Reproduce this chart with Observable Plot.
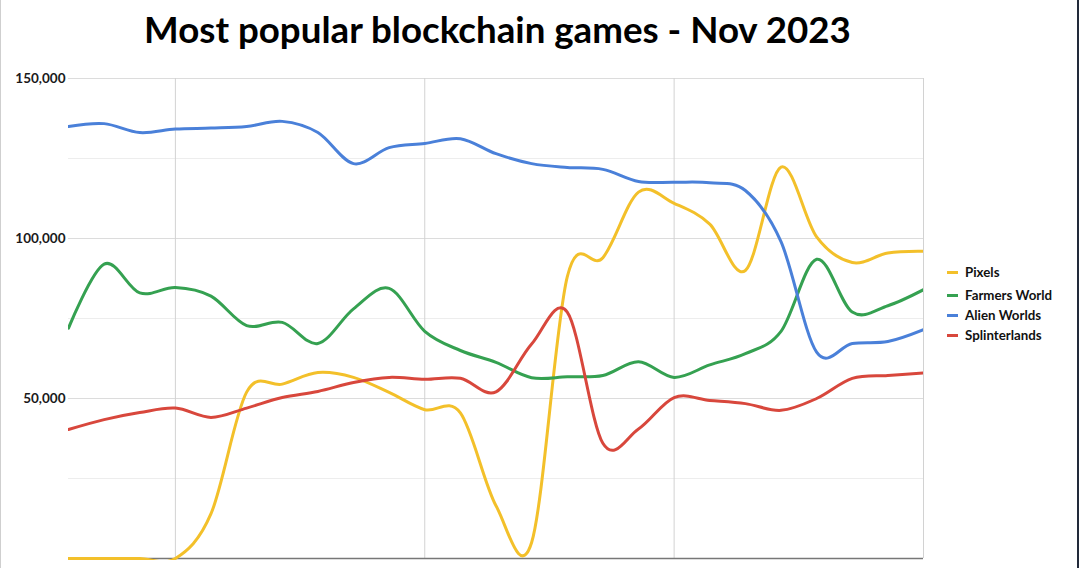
<!DOCTYPE html>
<html>
<head>
<meta charset="utf-8">
<script src="https://cdn.jsdelivr.net/npm/d3@7"></script>
<script src="https://cdn.jsdelivr.net/npm/@observablehq/plot@0.6"></script>
<style>
  html, body { margin: 0; padding: 0; background: #fff; }
  #wrap { position: relative; width: 1080px; height: 568px; overflow: hidden; background: #fff; font-family: Lato, "Open Sans", sans-serif; }
  #title { position: absolute; left: 0; top: 11px; width: 995px; text-align: center; font-weight: 700; font-size: 36.7px; line-height: 1; color: #000; }
  #chart { position: absolute; left: 0; top: 0; }
  #legend { position: absolute; left: 947px; top: 0; }
  .item { position: absolute; left: 0; white-space: nowrap; font-weight: 700; font-size: 13.3px; line-height: 1; color: #111; }
  .sw { display: inline-block; width: 11px; height: 3px; vertical-align: middle; margin-right: 7px; position: relative; top: -1px; }
  #edgeL { position: absolute; left: 0; top: 0; width: 1px; height: 568px; background: #cfcfcf; }
  #edgeR { position: absolute; left: 1077px; top: 0; width: 2px; height: 568px; background: #222a3a; }
</style>
</head>
<body>
<div id="wrap">
  <div id="chart"></div>
  <div id="title">Most popular blockchain games - Nov 2023</div>
  <div id="legend"></div>
  <div id="edgeL"></div>
  <div id="edgeR"></div>
</div>
<script>
// ---- data ----
const days = [0,1,2,3,4,5,6,7,8,9,10,11,12,13,14,15,16,17,18,19,20,21,22,23,24];
const pixels        = [0,0,0,0,14000,52000,54500,58100,56600,51900,46500,45500,16500,5000,88000,94000,114500,111000,104500,90000,122300,100500,92500,95500,96000];
const farmersWorld  = [72000,92000,83000,84700,82000,72800,73800,67200,78000,84400,71000,65000,61300,56500,56800,57200,61500,56600,60500,64000,71000,93500,77000,79000,84000];
const alienWorlds   = [135000,135900,133100,134200,134500,135000,136600,133100,123400,128400,129700,131200,126500,123400,122200,121600,117800,117600,117400,115000,99000,64500,67200,67800,71500];
const splinterlands = [40300,43400,45600,47000,44100,47000,50300,52200,55000,56600,56000,56300,52100,67000,77000,36000,40500,50300,49400,48400,46300,50000,56300,57200,58000];
const seriesNames  = ["Pixels", "Farmers World", "Alien Worlds", "Splinterlands"];
const seriesColors = ["#f3c02a", "#35a151", "#4a80d9", "#d8473c"];
const yLabelTicks = [50000, 100000, 150000];
const yMinorTicks = [25000, 75000, 125000];
const xGridTicks  = [3, 10, 17, 24];

const seriesValues = [pixels, farmersWorld, alienWorlds, splinterlands];
const rows = seriesNames.flatMap((name, s) => days.map((d, i) => ({ day: d, value: seriesValues[s][i], series: name })));

const chart = Plot.plot({
  width: 1080,
  height: 568,
  marginTop: 78,
  marginBottom: 10,
  marginLeft: 68,
  marginRight: 157,
  style: { fontFamily: "Lato, 'Open Sans', sans-serif", background: "#fff", overflow: "visible" },
  x: { domain: [0, 24], axis: null, label: null },
  y: { domain: [0, 150000], axis: null, label: null },
  color: { domain: seriesNames, range: seriesColors },
  marks: [
    Plot.ruleY(yMinorTicks, { stroke: "#ededed", strokeWidth: 1 }),
    Plot.ruleY(yLabelTicks, { stroke: "#dcdcdc", strokeWidth: 1 }),
    Plot.ruleX(xGridTicks, { stroke: "#d2d2d2", strokeWidth: 1 }),
    Plot.ruleY([0], { stroke: "#777", strokeWidth: 1.5 }),
    Plot.axisY(yLabelTicks, { tickSize: 0, tickPadding: 3, tickFormat: d3.format(","), fontSize: 13.5, fontWeight: 700, fill: "#1a1a1a", label: null }),
    Plot.lineY(rows, { x: "day", y: "value", z: "series", stroke: "series", strokeWidth: 3, curve: "cardinal", clip: true, strokeLinejoin: "round", strokeLinecap: "round" })
  ]
});
// let the line stroke sit fully on the zero baseline (extend clip slightly below the frame)
chart.querySelectorAll("clipPath rect").forEach(r => {
  const h = parseFloat(r.getAttribute("height"));
  if (!isNaN(h)) r.setAttribute("height", h + 2);
});
document.getElementById("chart").appendChild(chart);

// ---- legend ----
const legendY = [273, 296, 316, 336];
const legend = document.getElementById("legend");
seriesNames.forEach((name, i) => {
  const it = document.createElement("div");
  it.className = "item";
  it.style.top = (legendY[i] - 7) + "px";
  it.innerHTML = `<span class="sw" style="background:${seriesColors[i]}"></span>${name}`;
  legend.appendChild(it);
});
</script>
</body>
</html>
